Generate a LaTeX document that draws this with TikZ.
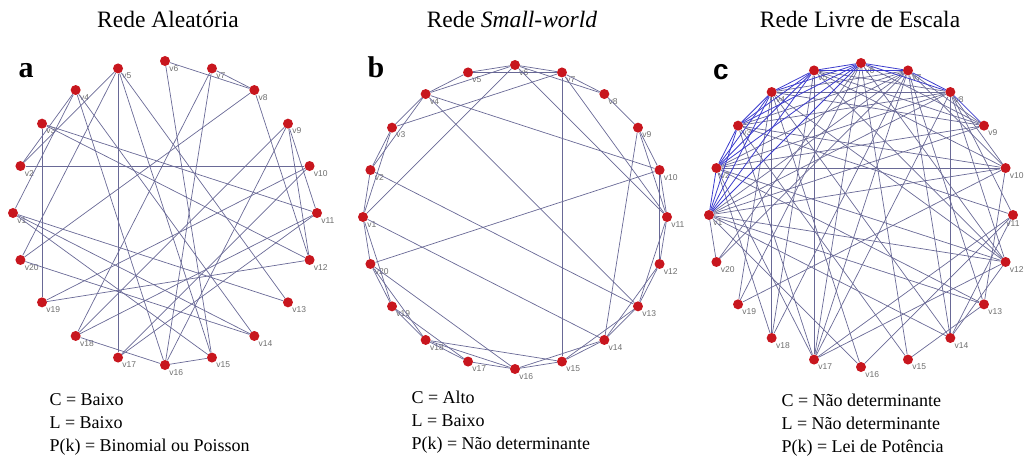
\documentclass[tikz,border=0pt]{standalone}
\usepackage{fontspec}
\setmainfont{Liberation Serif}
\newfontfamily\lblfont{Liberation Sans}
\usepackage{tikz}
\usetikzlibrary{positioning}
\definecolor{nodered}{RGB}{200,22,30}
\definecolor{edgegray}{RGB}{105,105,150}
\definecolor{hubblue}{RGB}{60,60,205}
\definecolor{lblgray}{RGB}{110,110,110}

\tikzset{
  vert/.style={circle, fill=nodered, minimum size=10pt, inner sep=0pt},
  vlabel/.style={font=\lblfont\fontsize{8.5}{8.5}\selectfont, text=lblgray, inner sep=0.5pt},
  edge/.style={draw=edgegray, line width=0.7pt},
  hubedge/.style={draw=hubblue, line width=0.8pt},
  title/.style={font=\fontsize{23.5}{26}\selectfont},
  info/.style={font=\fontsize{18}{23}\selectfont, align=left, anchor=north west},
  panel/.style={font=\bfseries\fontsize{30}{30}\selectfont}
}

\begin{document}
\begin{tikzpicture}[x=1pt, y=1pt]
  \useasboundingbox (0,0) rectangle (1027,464);

  % random network
  \begin{scope}[shift={(165,251)}]
    \foreach \i in {1,...,20}
      \node[vert, label={[vlabel]below right:v\i}] (a\i) at ({180-18*(\i-1)}:152) {};
    \foreach \s/\t in {2/10,5/17,3/19,6/8,7/8,8/20,8/12,5/2,5/20,5/13,5/15,4/14,4/16,4/1,
                       3/11,3/12,6/15,7/16,7/18,9/18,9/16,9/11,9/12,10/19,10/17,11/17,
                       11/18,12/19,1/13,1/14,20/14,1/15,15/16,18/16,4/2}
      \draw[edge] (a\s) -- (a\t);
  \end{scope}

  % small-world network
  \begin{scope}[shift={(515,247)}]
    \foreach \i in {1,...,20}
      \node[vert, label={[vlabel]below right:v\i}] (b\i) at ({180-18*(\i-1)}:152) {};
    \foreach \s/\t in {1/2,2/3,3/4,4/5,5/6,6/7,7/8,8/9,9/10,10/11,11/12,12/13,13/14,14/15,
                       15/16,16/17,17/18,18/19,19/20,20/1,1/3,2/4,4/6,5/7,6/8,9/11,10/12,
                       11/13,12/14,13/15,14/16,16/18,17/19,18/20,19/1}
      \draw[edge] (b\s) -- (b\t);
    \foreach \s/\t in {7/15,4/10,4/13,2/13,1/14,20/10,6/1,7/3,6/11,7/11,9/14,20/16,18/15}
      \draw[edge] (b\s) -- (b\t);
  \end{scope}

  % scale-free network
  \begin{scope}[shift={(861,249)}]
    \foreach \i in {1,...,20}{
      \ifnum\i=11
        \node[vert, label={[vlabel]below:v\i}] (c\i) at ({180-18*(\i-1)}:152) {};
      \else
        \node[vert, label={[vlabel]below right:v\i}] (c\i) at ({180-18*(\i-1)}:152) {};
      \fi}
    \foreach \s/\t in {1/7,1/8,1/9,1/10,1/12,1/13,1/14,1/16,1/20,
                       2/7,2/8,2/9,2/10,2/12,2/13,2/17,2/18,
                       3/7,3/8,3/10,3/11,3/15,3/17,
                       4/7,4/8,4/9,4/12,4/14,4/16,4/19,4/18,
                       5/8,5/9,5/10,5/12,5/17,5/18,
                       6/9,6/12,6/15,6/17,6/19,6/20,
                       7/9,7/10,7/13,7/14,7/17,7/18,
                       8/10,8/11,8/12,8/14,8/17,
                       10/13,10/19,11/14,11/17,11/16,12/17,13/15,14/12,20/7}
      \draw[edge] (c\s) -- (c\t);
    \foreach \s/\t in {1/2,1/3,1/4,1/5,1/6,2/3,2/4,2/5,2/6,3/4,3/5,3/6,4/5,4/6,5/6,5/7,6/7,
                       6/8,7/8,8/9}
      \draw[hubedge] (c\s) -- (c\t);
  \end{scope}

  % titles
  \node[title] (ta) at (168,445) {Rede Aleatória};
  \node[title] (tb) at (512,445) {Rede \textit{Small-world}};
  \node[title] (tc) at (860,445) {Rede Livre de Escala};

  % panel letters
  \node[panel] (la) at (26,393) {a};
  \node[panel] (lb) at (376,397) {b};
  \node[font=\lblfont\bfseries\fontsize{28}{28}\selectfont] (lc) at (721,392) {c};

  % properties
  \node[info] (pa) at (46,74) {C = Baixo\\L = Baixo\\P(k) = Binomial ou Poisson};
  \node[info] (pb) at (408,77) {C = Alto\\L = Baixo\\P(k) = Não determinante};
  \node[info] (pc) at (778,74) {C = Não determinante\\L = Não determinante\\P(k) = Lei de Potência};
\end{tikzpicture}
\end{document}
